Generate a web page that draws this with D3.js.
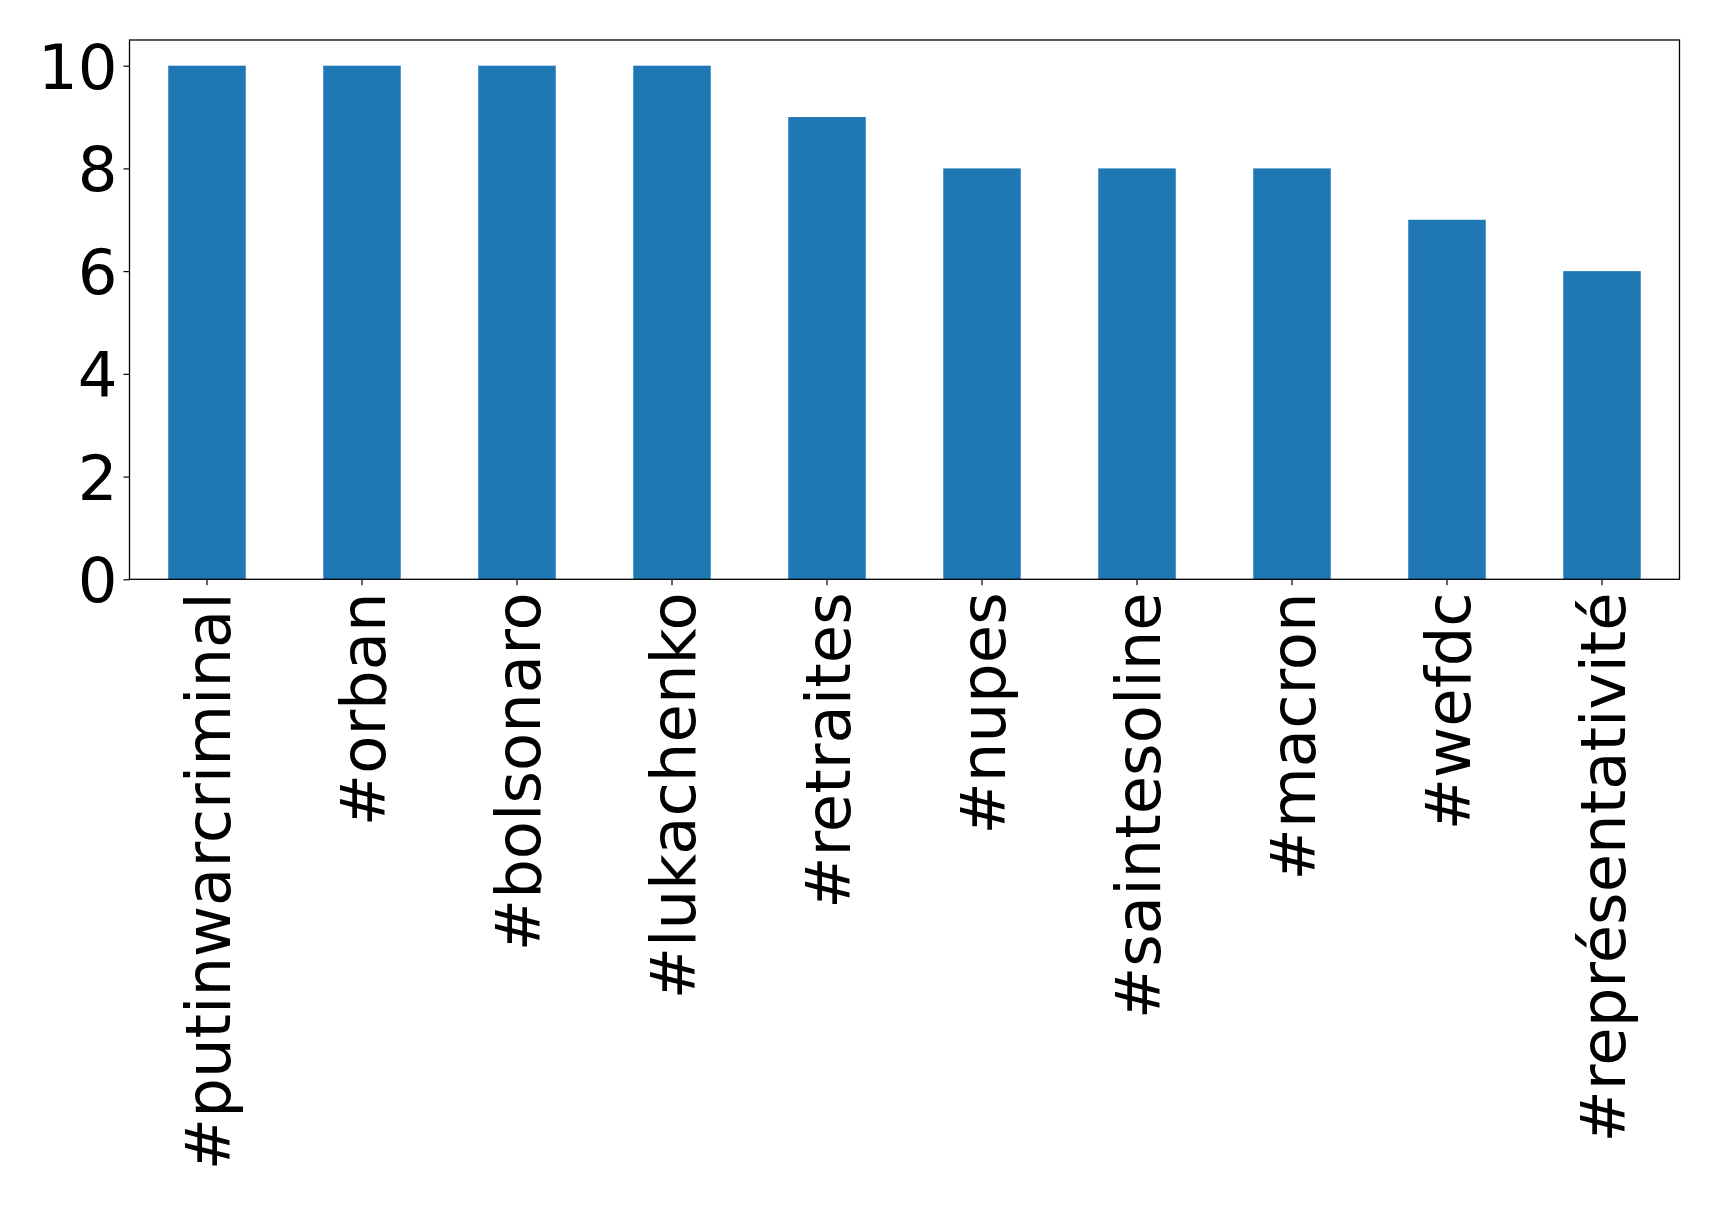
<!DOCTYPE html>
<html><head><meta charset="utf-8">
<script src="https://cdn.jsdelivr.net/npm/d3@7"></script>
<style>body{margin:0;background:#fff}svg{display:block}</style>
</head><body>
<script>
const categories = ["#putinwarcriminal","#orban","#bolsonaro","#lukachenko","#retraites","#nupes","#saintesoline","#macron","#wefdc","#représentativité"];
const values = [10,10,10,10,9,8,8,8,7,6];
const yTicks = [0,2,4,6,8,10];

const W=1719,H=1206;
const m={left:129.5,right:W-1679.5,top:40,bottom:H-579.3};
const svg=d3.select("body").append("svg").attr("width",W).attr("height",H);
const x=d3.scaleBand().domain(categories).range([m.left,W-m.right]).paddingInner(0.5).paddingOuter(0.25);
const y=d3.scaleLinear().domain([0,10.5]).range([H-m.bottom,m.top]);

svg.append("g").selectAll("rect").data(values).join("rect")
  .attr("x",(d,i)=>x(categories[i])).attr("width",x.bandwidth())
  .attr("y",d=>y(d)).attr("height",d=>y(0)-y(d)).attr("fill","#1f77b4");

const fs="62.5px";
const ya=svg.append("g").attr("transform",`translate(${m.left},0)`)
  .call(d3.axisLeft(y).tickValues(yTicks).tickSize(6).tickPadding(6).tickFormat(d3.format("d")));
ya.select(".domain").remove();
ya.selectAll("text").attr("font-family","DejaVu Sans").attr("font-size",fs).attr("fill","#000").attr("dy","0.36em");
ya.selectAll("line").attr("stroke","#000").attr("stroke-width",1.2);

const xa=svg.append("g").attr("transform",`translate(0,${H-m.bottom})`)
  .call(d3.axisBottom(x).tickSize(6).tickPadding(7));
xa.select(".domain").remove();
xa.selectAll("line").attr("stroke","#000").attr("stroke-width",1.2);
xa.selectAll("text").attr("font-family","DejaVu Sans").attr("font-size",fs).attr("fill","#000")
  .attr("transform","rotate(-90)").attr("text-anchor","end").attr("x",-13).attr("y",0).attr("dy","0.36em");

svg.append("rect").attr("x",m.left).attr("y",m.top).attr("width",W-m.right-m.left).attr("height",H-m.bottom-m.top)
  .attr("fill","none").attr("stroke","#000").attr("stroke-width",1.3);
</script>
</body></html>
